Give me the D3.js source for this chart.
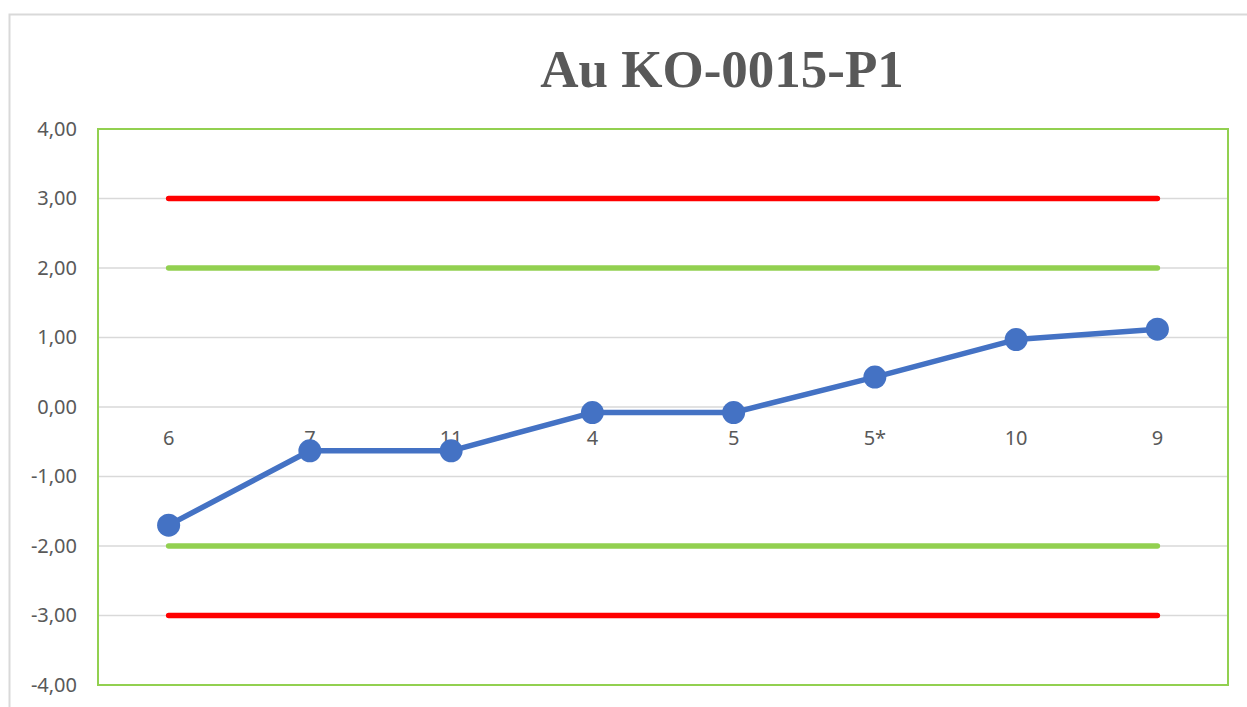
<!DOCTYPE html>
<html>
<head>
<meta charset="utf-8">
<script src="https://cdn.jsdelivr.net/npm/d3@7"></script>
<style>
  html, body { margin: 0; padding: 0; background: #ffffff; }
  svg { display: block; }
</style>
</head>
<body>
<svg id="chart" width="1247" height="707"></svg>
<script>
// Sample order along the x axis and their z-scores
const categories = ["6", "7", "11", "4", "5", "5*", "10", "9"];
const zScores = [-1.70, -0.63, -0.63, -0.08, -0.08, 0.43, 0.97, 1.12];
const yTicks = [-4, -3, -2, -1, 0, 1, 2, 3, 4];
// Control limits: warning (±2) and action (±3)
const warningLimits = [-2, 2];
const actionLimits = [-3, 3];
const titleText = "Au KO-0015-P1";

const svg = d3.select("#chart");
const W = 1247, H = 707;
const plot = { left: 98, top: 129, right: 1228, bottom: 685 };
const labelFont = "'Noto Sans', 'Open Sans', sans-serif";

// Chart frame
svg.append("rect")
  .attr("x", 9.5).attr("y", 14.5)
  .attr("width", W + 20).attr("height", H + 20)
  .attr("fill", "#ffffff")
  .attr("stroke", "#d9d9d9")
  .attr("stroke-width", 2);

const x = d3.scaleBand()
  .domain(categories)
  .range([plot.left, plot.right])
  .paddingInner(0).paddingOuter(0);

const y = d3.scaleLinear()
  .domain([-4, 4])
  .range([plot.bottom, plot.top]);

const cx = d => x(d) + x.bandwidth() / 2;

// Horizontal gridlines
svg.append("g")
  .selectAll("line")
  .data(yTicks)
  .join("line")
  .attr("x1", plot.left).attr("x2", plot.right)
  .attr("y1", d => y(d)).attr("y2", d => y(d))
  .attr("stroke", "#d9d9d9")
  .attr("stroke-width", 1.5);

// Y-axis labels with comma decimal separator
const fmt = d => d3.format(".2f")(d).replace(".", ",").replace("−", "-");
const yAxis = d3.axisLeft(y).tickValues(yTicks).tickFormat(fmt).tickSize(0).tickPadding(21);
const gy = svg.append("g")
  .attr("transform", `translate(${plot.left},0)`)
  .call(yAxis);
gy.select(".domain").remove();
gy.selectAll("text")
  .attr("fill", "#595959")
  .attr("font-family", labelFont)
  .attr("font-size", 20);

// Control limit lines from first to last sample
const first = cx(categories[0]);
const last = cx(categories[categories.length - 1]);
function limitLines(values, colour) {
  svg.append("g")
    .selectAll("line")
    .data(values)
    .join("line")
    .attr("x1", first).attr("x2", last)
    .attr("y1", d => y(d)).attr("y2", d => y(d))
    .attr("stroke", colour)
    .attr("stroke-width", 5.5)
    .attr("stroke-linecap", "round");
}
limitLines(actionLimits, "#ff0000");
limitLines(warningLimits, "#92d050");

// Category labels sitting just below the zero line
svg.append("g")
  .selectAll("text")
  .data(categories)
  .join("text")
  .attr("x", d => cx(d))
  .attr("y", y(0) + 38)
  .attr("text-anchor", "middle")
  .attr("fill", "#595959")
  .attr("font-family", labelFont)
  .attr("font-size", 20)
  .text(d => d);

// Plot area border
svg.append("rect")
  .attr("x", plot.left).attr("y", plot.top)
  .attr("width", plot.right - plot.left)
  .attr("height", plot.bottom - plot.top)
  .attr("fill", "none")
  .attr("stroke", "#92d050")
  .attr("stroke-width", 2);

// Z-score series
const pts = categories.map((c, i) => ({ c, v: zScores[i] }));
svg.append("path")
  .datum(pts)
  .attr("fill", "none")
  .attr("stroke", "#4472c4")
  .attr("stroke-width", 5.5)
  .attr("stroke-linejoin", "round")
  .attr("d", d3.line().x(d => cx(d.c)).y(d => y(d.v)));

svg.append("g")
  .selectAll("circle")
  .data(pts)
  .join("circle")
  .attr("cx", d => cx(d.c))
  .attr("cy", d => y(d.v))
  .attr("r", 11.5)
  .attr("fill", "#4472c4");

// Title
svg.append("text")
  .attr("x", 722)
  .attr("y", 87)
  .attr("text-anchor", "middle")
  .attr("fill", "#595959")
  .attr("font-family", "'Liberation Serif', 'Times New Roman', serif")
  .attr("font-weight", "bold")
  .attr("font-size", 53)
  .text(titleText);
</script>
</body>
</html>
